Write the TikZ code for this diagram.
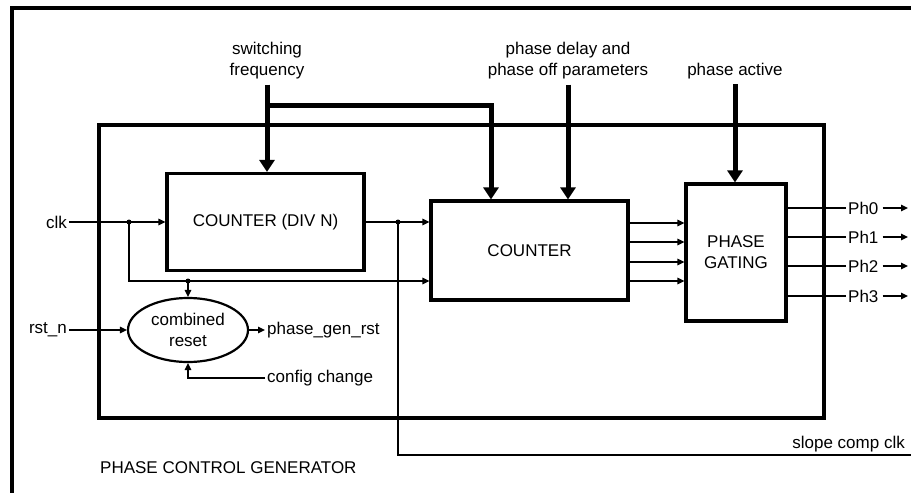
\documentclass[tikz,border=0pt]{standalone}
\usepackage{fontspec}
\setmainfont{Liberation Sans}
\usetikzlibrary{arrows.meta,shapes.geometric}
\begin{document}
\begin{tikzpicture}[x=1pt,y=-1pt,
  font=\fontsize{17}{21}\selectfont,
  blk/.style={draw,line width=3.2pt,inner sep=0pt},
  lbl/.style={inner sep=2pt,align=center},
  thinline/.style={line width=1.3pt},
  thinarrow/.style={line width=1.3pt,-{Triangle[length=7pt,width=6.5pt]}},
  thickarrow/.style={line width=5pt,line join=miter,-{Triangle[length=12pt,width=15pt]}},
  dot/.style={fill=black}]
\useasboundingbox (0,0) rectangle (911,493);
% outer frame
\draw[line width=4pt] (12,493) -- (12,7.5) -- (911,7.5);
% inner box
\draw[line width=3.5pt] (99,125) rectangle (824,418);
% blocks
\node[blk,minimum width=197pt,minimum height=97pt] (divn) at (265.5,222) {COUNTER (DIV N)};
\node[blk,minimum width=197pt,minimum height=99pt] (cnt) at (529.5,250.5) {COUNTER};
\node[blk,minimum width=100pt,minimum height=137pt,align=center] (gate) at (736,252.5) {PHASE\\GATING};
\node[draw,ellipse,line width=2.2pt,minimum width=120pt,minimum height=64pt,inner sep=0pt,align=center] (reset) at (188,330) {combined\\reset};
% labels
\node[lbl] (sw) at (267,61) {switching\\frequency};
\node[lbl] (pd) at (568,61) {phase delay and\\phase off parameters};
\node[lbl] (pa) at (735,71) {phase active};
\node[lbl,anchor=east] (clk) at (69,222) {clk};
\node[lbl,anchor=east] (rst) at (69,330) {rst\_n};
\node[lbl,anchor=west] (pgr) at (265,330) {phase\_gen\_rst};
\node[lbl,anchor=west] (cfg) at (265,378) {config change};
\node[lbl,anchor=east] (scc) at (907,444) {slope comp clk};
\node[lbl,anchor=west] (pcg) at (98,468) {PHASE CONTROL GENERATOR};
\node[lbl,anchor=west] (ph0) at (846,208) {Ph0};
\node[lbl,anchor=west] (ph1) at (846,237) {Ph1};
\node[lbl,anchor=west] (ph2) at (846,266) {Ph2};
\node[lbl,anchor=west] (ph3) at (846,296) {Ph3};
% coordinates
\coordinate (j1) at (129,222);
\coordinate (j2) at (188,281);
\coordinate (j3) at (398,222);
\coordinate (y281) at (0,281);
\coordinate (sce) at (911,455);
\coordinate (j4) at (267,105);
\coordinate (b491) at (491,105);
\foreach \n/\y in {0/208,1/237,2/266,3/296}{\coordinate (pe\n) at (908,\y);}
% clk
\draw[thinarrow] (clk.east) -- (divn.west);
\draw[thinarrow] (j1) |- (cnt.west |- y281);
\draw[thinarrow] (j2) -- (reset.north);
\fill[dot] (j1) circle (2.5pt);
\fill[dot] (j2) circle (2.5pt);
% div n out
\draw[thinarrow] (divn.east) -- (divn.east -| cnt.west);
\draw[thinline] (j3) |- (sce);
\fill[dot] (j3) circle (2.5pt);
% reset
\draw[thinarrow] (rst.east) -- (reset.west);
\draw[thinarrow] (reset.east) -- (pgr.west);
\draw[thinarrow] (cfg.west) -| (reset.south);
% counter to gating
\foreach \y in {223,242,262,281}{
  \coordinate (cy) at (0,\y);
  \draw[thinarrow] (cnt.east |- cy) -- (gate.west |- cy);
}
% gating outputs
\foreach \n in {0,1,2,3}{
  \draw[thinline] (gate.east |- ph\n.west) -- (ph\n.west);
  \draw[thinarrow,shorten <=2pt] (ph\n.east) -- (pe\n);
}
% thick inputs
\draw[thickarrow,shorten <=3pt] (sw.south) -- (sw.south |- divn.north);
\draw[thickarrow] (j4) -- (b491) -- (b491 |- cnt.north);
\draw[thickarrow,shorten <=3pt] (pd.south) -- (pd.south |- cnt.north);
\draw[thickarrow,shorten <=3pt] (pa.south) -- (pa.south |- gate.north);
\end{tikzpicture}
\end{document}
